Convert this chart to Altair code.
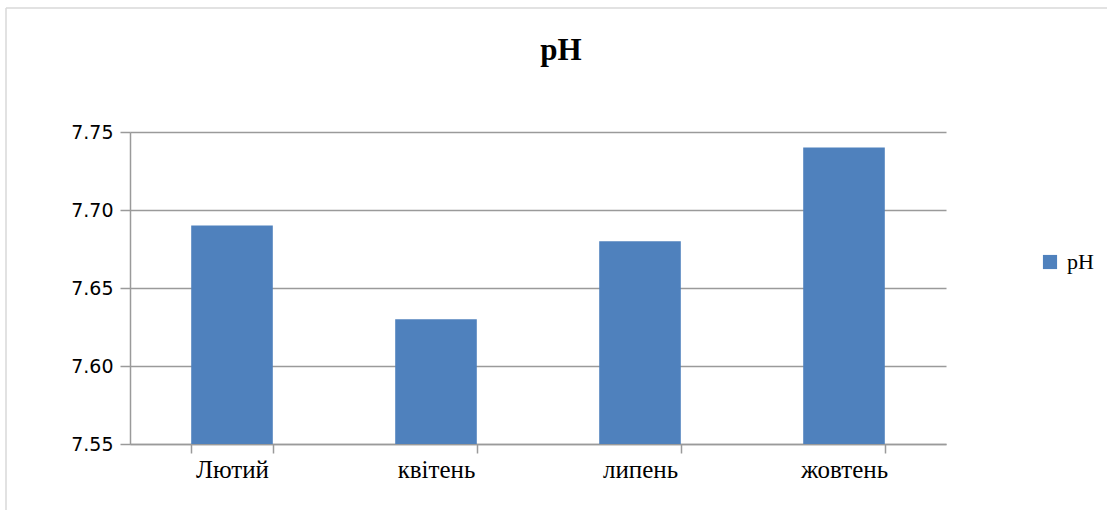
import altair as alt
import pandas as pd

months = ["Лютий", "квітень", "липень", "жовтень"]
ph_values = [7.69, 7.63, 7.68, 7.74]
series_name = "pH"
chart_title = "pH"
y_ticks = [7.55, 7.60, 7.65, 7.70, 7.75]

df = pd.DataFrame({"month": months, "ph": ph_values, "series": [series_name] * len(months)})

bar_color = "#4F81BD"
grid_color = "#9a9a9a"

bars = alt.Chart(df).mark_bar(color=bar_color, clip=True).encode(
    x=alt.X(
        "month:N",
        sort=months,
        title=None,
        scale=alt.Scale(paddingInner=0.6, paddingOuter=0.3),
        axis=alt.Axis(
            labelAngle=0,
            labelFont="Liberation Serif",
            labelFontSize=25,
            labelColor="#000000",
            labelPadding=4,
            tickBand="extent",
            tickColor=grid_color,
            tickSize=9,
            tickWidth=1.5,
            domainColor=grid_color,
            domainWidth=1.5,
            grid=False,
        ),
    ),
    y=alt.Y(
        "ph:Q",
        title=None,
        scale=alt.Scale(domain=[7.55, 7.75], zero=False, nice=False),
        axis=alt.Axis(
            values=y_ticks,
            format=".2f",
            labelFont="DejaVu Sans",
            labelFontSize=19,
            labelColor="#000000",
            labelPadding=7,
            tickColor=grid_color,
            tickSize=10,
            tickWidth=1.5,
            domainColor=grid_color,
            domainWidth=1.5,
            gridColor=grid_color,
            gridWidth=1.5,
        ),
    ),
    fill=alt.Fill(
        "series:N",
        scale=alt.Scale(range=[bar_color]),
        legend=alt.Legend(
            title=None,
            orient="none",
            legendX=909,
            legendY=119,
            symbolType="square",
            symbolSize=200,
            symbolStrokeWidth=0,
            labelFont="Liberation Serif",
            labelFontSize=22,
            labelColor="#000000",
            labelOffset=6,
        ),
    ),
)

# Outer frame lines along the top and left edges of the chart
frame_df = pd.DataFrame({"k": [0]})
frame_left = alt.Chart(frame_df).mark_rule(color="#d9d9d9", strokeWidth=1.5).encode(
    x=alt.value(-124), y=alt.value(-124), y2=alt.value(378)
)
frame_top = alt.Chart(frame_df).mark_rule(color="#d9d9d9", strokeWidth=1.5).encode(
    x=alt.value(-124), x2=alt.value(977), y=alt.value(-124)
)

# Chart heading, centred over the whole figure
heading = alt.Chart(frame_df).mark_text(
    text=chart_title,
    font="Liberation Serif",
    fontSize=31,
    fontWeight="bold",
    color="#000000",
    align="center",
    baseline="alphabetic",
).encode(x=alt.value(431), y=alt.value(-72))

chart = (
    alt.layer(bars, frame_left, frame_top, heading)
    .properties(
        width=816,
        height=312,
        autosize=alt.AutoSizeParams(type="none"),
        padding={"left": 130, "top": 132, "right": 161, "bottom": 66},
        background="white",
    )
    .configure_view(strokeWidth=0, stroke="transparent")
)

chart.save("out.html", embed_options={"renderer": "svg", "actions": False})
